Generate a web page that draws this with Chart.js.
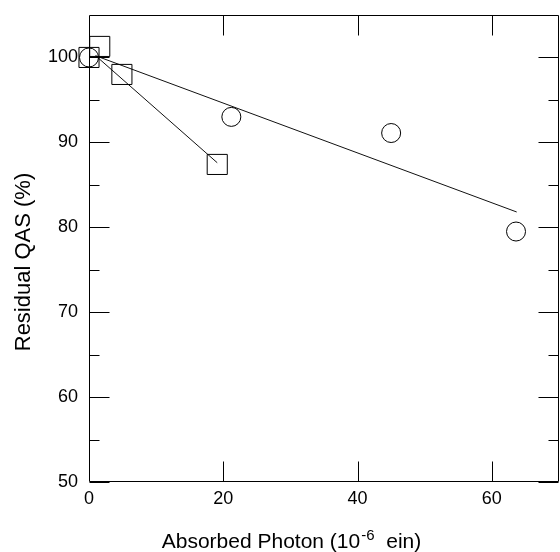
<!DOCTYPE html>
<html><head><meta charset="utf-8">
<script src="https://cdn.jsdelivr.net/npm/chart.js@4/dist/chart.umd.min.js"></script>
<style>html,body{margin:0;padding:0;background:#fff}</style>
</head><body>
<canvas id="c" width="560" height="552" style="width:560px;height:552px;display:block"></canvas>
<script>
// Data
const circleX = [0, 21.2, 45.0, 63.6];
const circleY = [100, 93.0, 91.1, 79.5];
const squareX = [0, 1.6, 4.9, 19.1];
const squareY = [100, 101.3, 98.0, 87.4];
const fitCircleX = [1, 63.7];
const fitCircleY = [100.2, 81.8];
const fitSquareX = [1, 19.1];
const fitSquareY = [100.2, 87.6];
const xMajorTicks = [20, 40, 60];
const yMajorTicks = [50, 60, 70, 80, 90, 100];
const yMinorTicks = [55, 65, 75, 85, 95];
const xTitleMain = 'Absorbed Photon (10';
const xTitleSup = '-6';
const xTitleEnd = '  ein)';
const yTitle = 'Residual QAS (%)';

const pts = (xs, ys) => xs.map((x, i) => ({x: x, y: ys[i]}));
const FONT = '"Liberation Sans", Arial, Helvetica, sans-serif';

const framePlugin = {
  id: 'frame',
  afterDraw(chart) {
    const ctx = chart.ctx, a = chart.chartArea;
    const xs = chart.scales.x, ys = chart.scales.y;
    ctx.save();
    ctx.strokeStyle = '#000';
    ctx.lineWidth = 1;
    const L = Math.round(a.left) + 0.5, R = Math.round(a.right) - 0.5;
    const T = Math.round(a.top) + 0.5, B = Math.round(a.bottom) - 0.5;
    ctx.beginPath();
    ctx.rect(L, T, R - L, B - T);
    xMajorTicks.forEach(v => {
      const px = Math.round(xs.getPixelForValue(v)) + 0.5;
      ctx.moveTo(px, T); ctx.lineTo(px, T + 20);
      ctx.moveTo(px, B); ctx.lineTo(px, B - 20);
    });
    yMajorTicks.forEach(v => {
      const py = Math.round(ys.getPixelForValue(v)) + 0.5;
      ctx.moveTo(L, py); ctx.lineTo(L + 20, py);
      ctx.moveTo(R, py); ctx.lineTo(R - 20, py);
    });
    yMinorTicks.forEach(v => {
      const py = Math.round(ys.getPixelForValue(v)) + 0.5;
      ctx.moveTo(L, py); ctx.lineTo(L + 10, py);
      ctx.moveTo(R, py); ctx.lineTo(R - 10, py);
    });
    ctx.stroke();

    // axis titles
    ctx.fillStyle = '#000';
    ctx.textBaseline = 'alphabetic';
    ctx.textAlign = 'left';
    const big = '21px ' + FONT, small = '15px ' + FONT;
    ctx.font = big;
    const w1 = ctx.measureText(xTitleMain).width;
    const w3 = ctx.measureText(xTitleEnd).width;
    ctx.font = small;
    const w2 = ctx.measureText(xTitleSup).width;
    const x0 = 291 - (w1 + w2 + w3) / 2;
    const by = 548;
    ctx.font = big; ctx.fillText(xTitleMain, x0, by);
    ctx.font = small; ctx.fillText(xTitleSup, x0 + w1 + 1, by - 8);
    ctx.font = big; ctx.fillText(xTitleEnd, x0 + w1 + w2 + 1, by);

    ctx.translate(30, 262);
    ctx.rotate(-Math.PI / 2);
    ctx.textAlign = 'center';
    ctx.font = '22px ' + FONT;
    ctx.fillText(yTitle, 0, 0);
    ctx.restore();
  }
};

const markerBase = {
  showLine: false,
  clip: false,
  borderColor: '#000',
  backgroundColor: 'rgba(0,0,0,0)',
  borderWidth: 1,
  pointBorderWidth: 1
};

new Chart(document.getElementById('c'), {
  type: 'scatter',
  data: {
    datasets: [
      Object.assign({label: 'circles', data: pts(circleX, circleY), pointStyle: 'circle', pointRadius: 9.5}, markerBase),
      Object.assign({label: 'squares', data: pts(squareX, squareY), pointStyle: 'rect', pointRadius: 14.2}, markerBase),
      {label: 'fit circles', data: pts(fitCircleX, fitCircleY), showLine: true, clip: false, pointRadius: 0, borderColor: '#111', borderWidth: 1},
      {label: 'fit squares', data: pts(fitSquareX, fitSquareY), showLine: true, clip: false, pointRadius: 0, borderColor: '#111', borderWidth: 1}
    ]
  },
  options: {
    responsive: false,
    animation: false,
    events: [],
    layout: {autoPadding: false, padding: {top: 15, right: 1, left: 0, bottom: 0}},
    plugins: {legend: {display: false}, tooltip: {enabled: false}},
    scales: {
      x: {
        type: 'linear', min: 0, max: 70,
        grid: {display: false, drawTicks: false},
        border: {display: false},
        ticks: {stepSize: 20, includeBounds: false, color: '#000', padding: 6, maxRotation: 0,
                font: {family: FONT, size: 18}},
        afterFit(s) { s.height = 70; s.paddingLeft = 0; s.paddingRight = 0; }
      },
      y: {
        type: 'linear', min: 50, max: 105,
        grid: {display: false, drawTicks: false},
        border: {display: false},
        ticks: {stepSize: 10, includeBounds: false, color: '#000', padding: 11,
                font: {family: FONT, size: 18}},
        afterFit(s) { s.width = 89; s.paddingTop = 0; s.paddingBottom = 0; }
      }
    }
  },
  plugins: [framePlugin]
});
</script>
</body></html>
